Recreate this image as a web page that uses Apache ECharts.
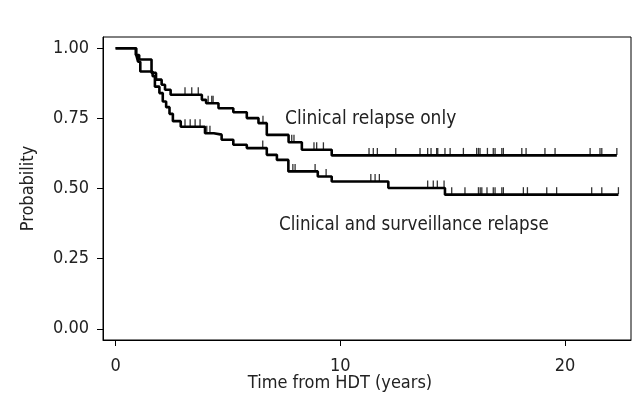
<!DOCTYPE html>
<html>
<head>
<meta charset="utf-8">
<script src="https://cdn.jsdelivr.net/npm/echarts@6/dist/echarts.min.js"></script>
<style>
  html, body { margin: 0; padding: 0; background: #fff; }
  #chart { width: 632px; height: 395px; }
</style>
</head>
<body>
<div id="chart"></div>
<script>
// step curves: time (years) at which survival drops, and the new value
const clinicalTimes = [0, 0.9, 1.05, 1.6, 1.8, 2.05, 2.2, 2.45, 3.84, 4.03, 4.58, 5.24, 5.84, 6.36, 6.73, 7.7, 8.29, 9.62];
const clinicalSurv = [1, 0.976, 0.96, 0.912, 0.888, 0.87, 0.852, 0.834, 0.816, 0.804, 0.786, 0.772, 0.751, 0.733, 0.691, 0.665, 0.638, 0.618];
const clinicalEnd = 22.31;
const clinicalCensor = [3.09, 3.39, 3.68, 4.12, 4.28, 4.34, 6.56, 7.84, 7.94, 8.83, 8.95, 9.25, 11.28, 11.47, 11.65, 12.47,
  13.55, 13.89, 14.04, 14.29, 14.34, 14.66, 14.89, 15.48, 16.07, 16.15, 16.22, 16.55, 16.81, 16.89, 17.19, 17.26,
  18.08, 18.27, 19.11, 19.56, 21.12, 21.56, 21.64, 22.31];

const survTimes = [0, 0.92, 1.0, 1.1, 1.65, 1.75, 1.95, 2.1, 2.25, 2.4, 2.55, 2.9, 3.98, 4.37, 4.72, 5.24, 5.84, 6.73, 7.18, 7.69, 9.0, 9.62, 12.14, 14.66];
const survSurv = [1, 0.976, 0.952, 0.917, 0.9, 0.863, 0.84, 0.81, 0.79, 0.766, 0.74, 0.72, 0.697, 0.692, 0.674, 0.656, 0.644, 0.62, 0.602, 0.561, 0.543, 0.525, 0.502, 0.478];
const survEnd = 22.38;
const survCensor = [3.09, 3.32, 3.54, 3.76, 4.06, 4.2, 6.55, 7.89, 7.99, 8.88, 9.37, 11.36, 11.55, 11.74, 13.89, 14.14,
  14.32, 14.62, 14.96, 15.55, 16.15, 16.23, 16.3, 16.53, 16.81, 16.89, 17.19, 17.26, 18.15, 18.33, 19.19, 19.63,
  21.19, 21.64, 22.38];

const xTicks = [0, 10, 20];
const yTicks = [0, 0.25, 0.5, 0.75, 1];

const FONT = "'Liberation Sans Narrow', 'DejaVu Sans Condensed', sans-serif";

function stepData(times, surv, end) {
  const d = times.map((t, i) => [t, surv[i]]);
  d.push([end, surv[surv.length - 1]]);
  return d;
}
// survival value at time t
function survAt(times, surv, t) {
  let s = surv[0];
  for (let i = 0; i < times.length; i++) if (times[i] <= t) s = surv[i];
  return s;
}
function censorData(times, surv, cens) {
  return cens.map(t => [t, survAt(times, surv, t)]);
}

const chart = echarts.init(document.getElementById('chart'));

const tickMark = {
  type: 'scatter',
  symbol: 'rect',
  symbolSize: [1.3, 7],
  symbolOffset: [0, -4],
  itemStyle: { color: '#000' },
  silent: true,
  z: 3
};

chart.setOption({
  animation: false,
  grid: {
    left: 103, right: 1, top: 37, bottom: 55,
    outerBoundsMode: 'none', containLabel: false,
    show: true, borderColor: '#000', borderWidth: 1
  },
  xAxis: {
    type: 'value',
    min: -0.56,
    max: 22.94,
    splitLine: { show: false },
    axisLine: { show: true, onZero: false, lineStyle: { color: '#000' } },
    axisTick: { show: true, inside: false, length: 6, customValues: xTicks, lineStyle: { color: '#000' } },
    axisLabel: { customValues: xTicks, margin: 17, fontSize: 18, color: '#222', fontFamily: FONT },
    name: 'Time from HDT (years)',
    nameLocation: 'middle',
    nameMoveOverlap: false,
    nameGap: 34,
    nameTextStyle: { fontSize: 18, color: '#222', fontFamily: FONT, padding: [0, 54, 0, 0] }
  },
  yAxis: {
    type: 'value',
    min: -0.04,
    max: 1.04,
    splitLine: { show: false },
    axisLine: { show: true, onZero: false, lineStyle: { color: '#000' } },
    axisTick: { show: true, inside: false, length: 6, customValues: yTicks, lineStyle: { color: '#000' } },
    axisLabel: {
      customValues: yTicks, margin: 14, fontSize: 18, color: '#222', fontFamily: FONT,
      formatter: v => v.toFixed(2)
    },
    name: 'Probability',
    nameLocation: 'middle',
    nameGap: 66,
    nameTextStyle: { fontSize: 18, color: '#222', fontFamily: FONT }
  },
  series: [
    {
      name: 'Clinical relapse only',
      type: 'line',
      step: 'end',
      showSymbol: false,
      lineStyle: { color: '#000', width: 2.6 },
      data: stepData(clinicalTimes, clinicalSurv, clinicalEnd)
    },
    {
      name: 'Clinical and surveillance relapse',
      type: 'line',
      step: 'end',
      showSymbol: false,
      lineStyle: { color: '#000', width: 2.6 },
      data: stepData(survTimes, survSurv, survEnd)
    },
    Object.assign({ data: censorData(clinicalTimes, clinicalSurv, clinicalCensor) }, tickMark),
    Object.assign({ data: censorData(survTimes, survSurv, survCensor) }, tickMark)
  ],
  graphic: [
    { type: 'text', left: 285, top: 110, style: { text: 'Clinical relapse only', fontSize: 19, fill: '#222', fontFamily: FONT } },
    { type: 'text', left: 279, top: 216, style: { text: 'Clinical and surveillance relapse', fontSize: 18.6, fill: '#222', fontFamily: FONT } }
  ]
});
</script>
</body>
</html>
